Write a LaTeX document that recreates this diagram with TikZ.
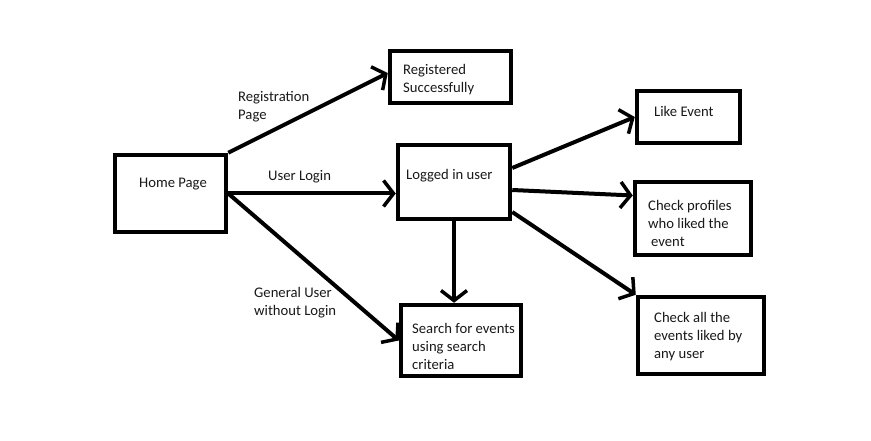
\documentclass[tikz,border=0pt]{standalone}
\usepackage{fontspec}
\setmainfont{Carlito}
\usetikzlibrary{arrows.meta}
\begin{document}
\begin{tikzpicture}[x=1pt,y=-1pt,
  box/.style={draw=black,line width=4.5pt,inner sep=0pt,rectangle},
  txt/.style={anchor=base west,inner sep=0pt,align=left,font=\fontsize{14.67}{18}\selectfont,text=black!90},
  conn/.style={line width=4pt,-{Straight Barb[length=10pt,width=26pt,line width=3.5pt]}}]
\useasboundingbox[fill=white] (0,0) rectangle (871,441);
% boxes
\node[box,minimum width=111pt,minimum height=77pt] (home) at (170.5,193.5) {};
\node[box,minimum width=121pt,minimum height=52pt] (reg) at (450.5,77) {};
\node[box,minimum width=112pt,minimum height=74pt] (login) at (454,182) {};
\node[box,minimum width=103pt,minimum height=52pt] (like) at (688.5,117) {};
\node[box,minimum width=116pt,minimum height=73pt] (prof) at (693,218.5) {};
\node[box,minimum width=126pt,minimum height=77pt] (all) at (701,335.5) {};
\node[box,minimum width=120pt,minimum height=71pt] (search) at (461,340.5) {};
% box texts (anchor at baseline of last line)
\node[txt] (hometxt) at (139,188) {Home Page};
\node[txt] (regtxt) at (403,93) {Registered\\Successfully};
\node[txt] (logintxt) at (406,180) {Logged in user};
\node[txt] (liketxt) at (654,117) {Like Event};
\node[txt] (proftxt) at (648,247) {Check profiles\\who liked the\\\hspace{3pt}event};
\node[txt] (alltxt) at (654,358) {Check all the\\events liked by\\any user};
\node[txt] (searchtxt) at (412,369) {Search for events\\using search\\criteria};
% edge labels
\node[txt] (lblreg) at (238,120) {Registration\\Page};
\node[txt] (lbllogin) at (268,181) {User Login};
\node[txt] (lblgen) at (254,315) {General User\\without Login};
% connectors
\draw[conn] (home.north east) -- ([yshift=4pt]reg.west);
\draw[conn] (home.east) -- (login.west |- home.east);
\draw[conn] (home.east) -- (search.west);
\draw[conn] (login.south) -- (login.south |- search.north);
\draw[conn] ([yshift=14pt]login.east) -- (like.west);
\draw[conn] ([yshift=-8pt]login.east) -- ([yshift=23pt]prof.west);
\draw[conn] ([yshift=-30pt]login.east) -- (all.north west);
\end{tikzpicture}
\end{document}
